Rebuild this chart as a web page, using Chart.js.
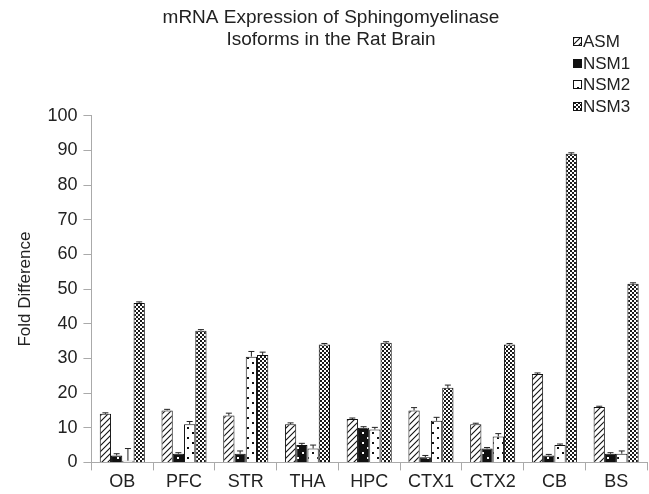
<!DOCTYPE html>
<html>
<head>
<meta charset="utf-8">
<script src="https://cdn.jsdelivr.net/npm/chart.js@4/dist/chart.umd.min.js"></script>
<style>
  body { margin: 0; background: #fff; }
  #wrap { width: 649px; height: 494px; }
</style>
</head>
<body>
<div id="wrap"><canvas id="barChart" width="649" height="494"></canvas></div>
<script>
const regions = ['OB', 'PFC', 'STR', 'THA', 'HPC', 'CTX1', 'CTX2', 'CB', 'BS'];
const asm  = [14, 15, 13.5, 11, 12.5, 15, 11, 25.5, 16];
const nsm1 = [2, 2.5, 2.5, 5, 10, 1.5, 4, 2, 2.5];
const nsm2 = [0.5, 11, 30.5, 4, 9.5, 12, 7.5, 5, 2.5];
const nsm3 = [46, 38, 31, 34, 34.5, 21.5, 34, 89, 51.5];
const asmErr  = [0.3, 0.3, 0.7, 0.4, 0.3, 0.8, 0.3, 0.3, 0.2];
const nsm1Err = [0.5, 0.3, 0.8, 0.5, 0.3, 0.5, 0.3, 0.3, 0.3];
const nsm2Err = [3.5, 0.8, 1.5, 1, 0.6, 1, 0.8, 0.3, 0.8];
const nsm3Err = [0.3, 0.3, 0.8, 0.3, 0.3, 0.8, 0.3, 0.3, 0.3];

const FONT = '"Liberation Sans", Arial, sans-serif';

function tile(size, draw) {
  const c = document.createElement('canvas');
  c.width = size; c.height = size;
  const g = c.getContext('2d');
  draw(g, size);
  return g.createPattern(c, 'repeat');
}
const hatch = tile(6, (g, s) => {
  g.fillStyle = '#fff'; g.fillRect(0, 0, s, s);
  g.strokeStyle = '#111'; g.lineWidth = 1.1;
  g.beginPath();
  g.moveTo(0, s); g.lineTo(s, 0);
  g.moveTo(-1, 1); g.lineTo(1, -1);
  g.moveTo(s - 1, s + 1); g.lineTo(s + 1, s - 1);
  g.stroke();
});
const darkDots = tile(10, (g, s) => {
  g.fillStyle = '#111'; g.fillRect(0, 0, s, s);
  g.fillStyle = '#fff';
  g.fillRect(2, 2, 2, 2); g.fillRect(7, 7, 2, 2);
});
const lightDots = tile(10, (g, s) => {
  g.fillStyle = '#fff'; g.fillRect(0, 0, s, s);
  g.fillStyle = '#111';
  g.fillRect(2, 2, 2, 2); g.fillRect(7, 7, 2, 2);
});
const checker = tile(4, (g, s) => {
  g.fillStyle = '#fff'; g.fillRect(0, 0, s, s);
  g.fillStyle = '#1a1a1a';
  g.fillRect(0, 0, 2, 2); g.fillRect(2, 2, 2, 2);
});

const errs = [asmErr, nsm1Err, nsm2Err, nsm3Err];

const errorBars = {
  id: 'errorBars',
  afterDatasetsDraw(chart) {
    const c = chart.ctx, y = chart.scales.y;
    c.save();
    c.strokeStyle = '#222'; c.lineWidth = 1;
    chart.data.datasets.forEach((ds, i) => {
      chart.getDatasetMeta(i).data.forEach((bar, j) => {
        const top = y.getPixelForValue(ds.data[j] + errs[i][j]);
        c.beginPath();
        c.moveTo(bar.x, bar.y); c.lineTo(bar.x, top);
        c.moveTo(bar.x - 3, top); c.lineTo(bar.x + 3, top);
        c.stroke();
      });
    });
    c.restore();
  }
};

// legend sits at the top right, above the plot
const sideLegend = {
  id: 'sideLegend',
  afterDraw(chart) {
    const c = chart.ctx;
    c.save();
    c.font = '17px ' + FONT;
    c.textBaseline = 'middle';
    chart.data.datasets.forEach((ds, i) => {
      const yy = Math.round(41 + i * 21.5);
      c.fillStyle = ds.backgroundColor;
      c.fillRect(573, yy - 4, 9, 9);
      c.strokeStyle = '#111'; c.lineWidth = 1;
      c.strokeRect(573.5, yy - 3.5, 8, 8);
      c.fillStyle = '#222';
      c.fillText(ds.label, 583, yy + 1);
    });
    c.restore();
  }
};

const ctx1 = document.getElementById('barChart');
new Chart(ctx1, {
  type: 'bar',
  data: {
    labels: regions,
    datasets: [
      { label: 'ASM', data: asm, backgroundColor: hatch },
      { label: 'NSM1', data: nsm1, backgroundColor: darkDots },
      { label: 'NSM2', data: nsm2, backgroundColor: lightDots },
      { label: 'NSM3', data: nsm3, backgroundColor: checker }
    ].map(d => Object.assign(d, { borderColor: '#111', borderWidth: 1 }))
  },
  options: {
    responsive: false,
    animation: false,
    layout: { padding: { top: 0, right: 2, left: 15, bottom: 0 } },
    categoryPercentage: 0.73,
    barPercentage: 1,
    plugins: {
      legend: { display: false },
      tooltip: { enabled: false },
      title: {
        display: true,
        text: ['mRNA Expression of Sphingomyelinase', 'Isoforms in the Rat Brain'],
        color: '#222',
        font: { family: FONT, size: 19, weight: 'normal', lineHeight: 1.15 },
        padding: { top: 7, bottom: 65 }
      }
    },
    scales: {
      x: {
        grid: { display: true, drawOnChartArea: false, offset: true, color: '#aaa', tickLength: 8 },
        border: { color: '#aaa' },
        ticks: { color: '#222', font: { family: FONT, size: 18 }, padding: 1 }
      },
      y: {
        min: 0, max: 100,
        ticks: { stepSize: 10, color: '#222', font: { family: FONT, size: 18 }, padding: 6 },
        grid: { display: true, drawOnChartArea: false, color: '#aaa', tickLength: 8 },
        border: { color: '#aaa' },
        title: {
          display: true, text: 'Fold Difference', color: '#222',
          font: { family: FONT, size: 17 }, padding: { top: 0, bottom: 6 }
        }
      }
    }
  },
  plugins: [errorBars, sideLegend]
});
</script>
</body>
</html>
